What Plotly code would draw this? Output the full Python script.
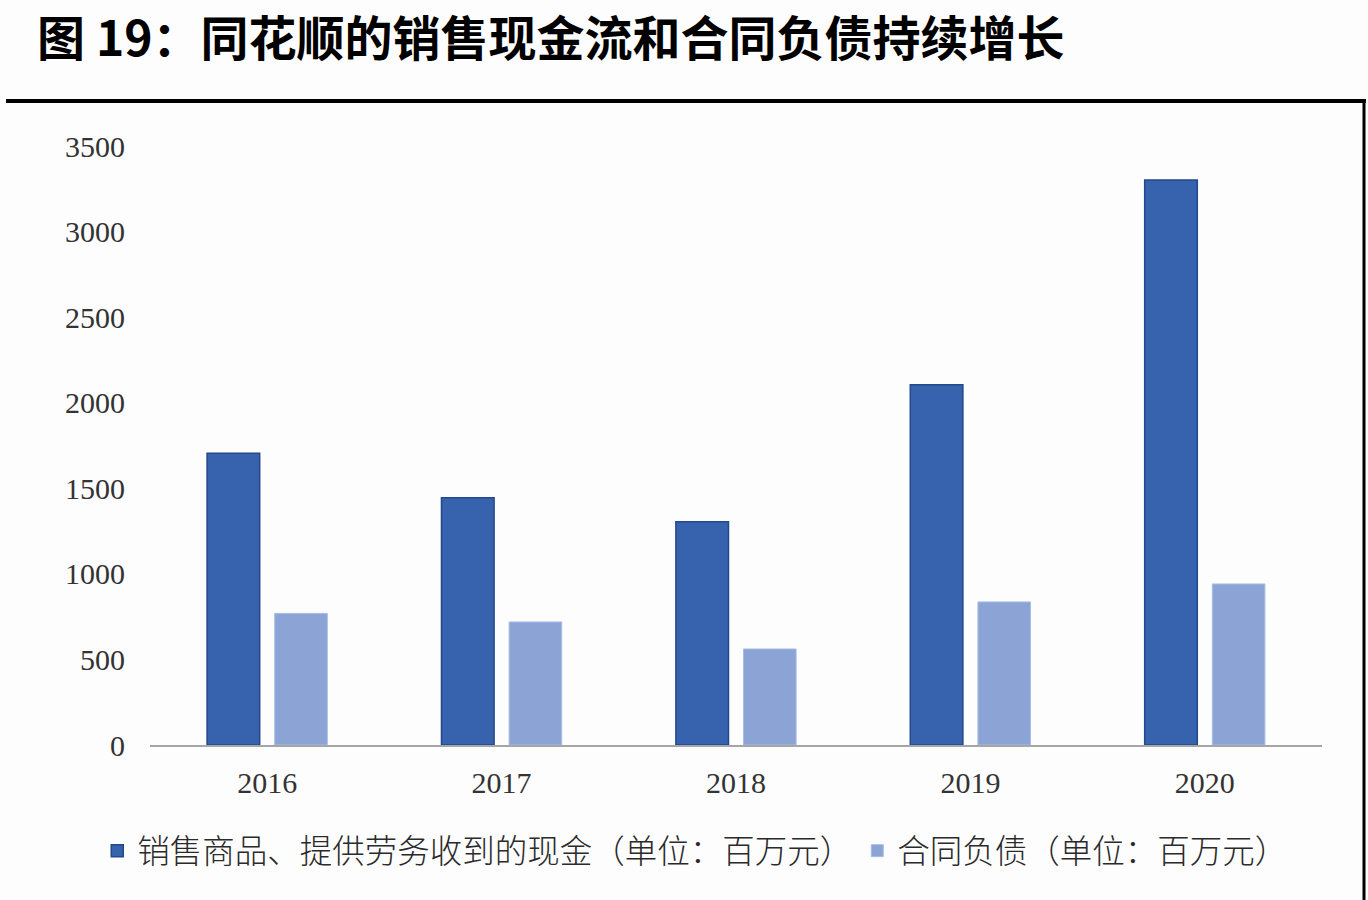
import plotly.graph_objects as go

# data (百万元)
years = ["2016", "2017", "2018", "2019", "2020"]
sales_cash = [1705, 1444, 1304, 2105, 3302]
contract_liab = [769, 719, 561, 836, 941]

name_sales = "销售商品、提供劳务收到的现金（单位：百万元）"
name_liab = "合同负债（单位：百万元）"

serif = "Liberation Serif, Times New Roman, serif"
cjk = "Noto Sans CJK SC, sans-serif"

fig = go.Figure()
fig.add_trace(go.Bar(x=years, y=sales_cash, name=name_sales,
                     marker=dict(color="#3762AE", line=dict(color="#23488C", width=1.5))))
fig.add_trace(go.Bar(x=years, y=contract_liab, name=name_liab,
                     marker=dict(color="#8BA3D5", line=dict(color="#A9BDE3", width=1))))

fig.update_layout(
    width=1368, height=900,
    margin=dict(l=150, r=46, t=146, b=155),
    paper_bgcolor="#FDFDFD", plot_bgcolor="#FDFDFD",
    barmode="group", bargap=0.423, bargroupgap=0.222,
    title=dict(text="<b>图 19：同花顺的销售现金流和合同负债持续增长</b>",
               x=37 / 1368, xanchor="left", y=1 - 39 / 900, yanchor="middle",
               font=dict(family=cjk, size=48, color="#000000")),
    legend=dict(orientation="h", x=-0.045, xanchor="left", y=-0.177, yanchor="middle",
                font=dict(family=cjk, size=32.5, color="#2a2a2a", weight=300),
                itemwidth=30, bgcolor="rgba(0,0,0,0)", traceorder="normal"),
    showlegend=True,
)
fig.update_xaxes(showline=True, linecolor="#A6A6A6", linewidth=2, showgrid=False,
                 ticks="", ticklabelstandoff=10,
                 tickfont=dict(family=serif, size=30, color="#333333"))
fig.update_yaxes(range=[0, 3500], dtick=500, showgrid=False, zeroline=False,
                 showline=False, ticks="", ticklabelstandoff=24,
                 tickfont=dict(family=serif, size=30, color="#333333"))

# black frame lines: top rule and right edge
fig.add_shape(type="line", xref="paper", yref="paper",
              x0=(6 - 150) / 1172, x1=(1366 - 150) / 1172,
              y0=(745 - 101) / 599, y1=(745 - 101) / 599,
              line=dict(color="#000000", width=4))
fig.add_shape(type="line", xref="paper", yref="paper",
              x0=(1364 - 150) / 1172, x1=(1364 - 150) / 1172,
              y0=(745 - 101) / 599, y1=(745 - 900) / 599,
              line=dict(color="#000000", width=3))

fig.write_html("out.html", config={"displayModeBar": False},
               post_script="document.body.style.margin='0';")
